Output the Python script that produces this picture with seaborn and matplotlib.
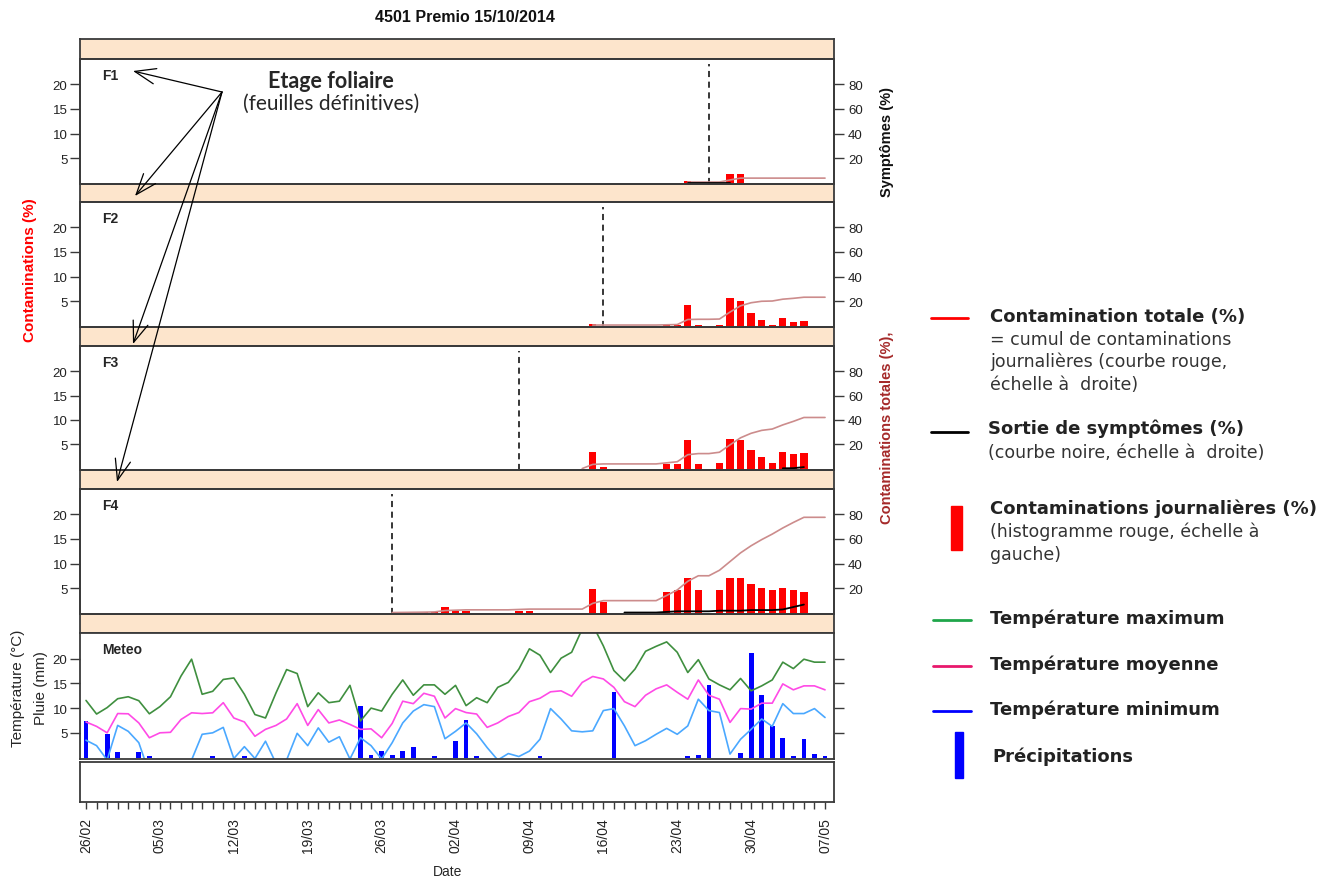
import matplotlib
matplotlib.use("Agg")
import matplotlib.pyplot as plt
import numpy as np
import pandas as pd
import seaborn as sns

W, H = 1341, 879

dates = pd.date_range("2014-02-26", "2014-05-07", freq="D")
day_idx = np.arange(len(dates))

# daily contaminations (%), left scale: day index -> value
f1_days = [57, 61, 62]
f1_daily = [0.4, 1.7, 1.7]
f2_days = [48, 55, 56, 57, 58, 60, 61, 62, 63, 64, 65, 66, 67, 68]
f2_daily = [0.4, 0.2, 0.2, 4.1, 0.2, 0.2, 5.7, 5.1, 2.55, 1.2, 0.2, 1.5, 0.7, 0.9]
f3_days = [48, 49, 55, 56, 57, 58, 60, 61, 62, 63, 64, 65, 66, 67, 68]
f3_daily = [3.4, 0.4, 0.9, 0.9, 5.8, 0.9, 1.1, 6.1, 5.8, 3.75, 2.4, 1.1, 3.4, 2.9, 3.2]
f4_days = [30, 31, 32, 33, 34, 35, 36, 41, 42, 48, 49, 55, 56, 57, 58,
           60, 61, 62, 63, 64, 65, 66, 67, 68]
f4_daily = [0.1, 0.1, 0.1, 0.2, 1.1, 0.3, 0.3, 0.3, 0.3, 4.7, 2.2, 4.2, 4.5, 7.1, 4.5,
            4.5, 7.1, 7.1, 5.8, 5.0, 4.5, 5.0, 4.5, 4.2]

# total contamination (%), right scale, starting at a given day index
f1_total_start = 57
f1_total = [0.4, 0.4, 0.4, 0.4, 2.1, 3.6, 3.6, 3.6, 3.6, 3.6, 3.6, 3.6, 3.6, 3.6]
f2_total_start = 48
f2_total = [0.4, 0.4, 0.4, 0.4, 0.4, 0.4, 0.4, 0.6, 0.8, 4.9, 5.1, 5.1, 5.3, 11.0,
            16.1, 18.6, 19.8, 20.0, 21.5, 22.2, 23.1, 23.1, 23.1]
f3_total_start = 47
f3_total = [0.0, 3.4, 3.8, 3.8, 3.8, 3.8, 3.8, 3.8, 4.7, 5.6, 11.4, 12.3, 12.3, 13.4,
            19.5, 25.3, 29.0, 31.4, 32.5, 35.9, 38.8, 42.0, 42.0, 42.0]
f4_total_start = 29
f4_total = [0.0, 0.1, 0.2, 0.3, 0.5, 1.6, 1.9, 2.2, 2.2, 2.2, 2.2, 2.2, 2.5, 2.8,
            2.8, 2.8, 2.8, 2.8, 2.8, 7.5, 9.7, 9.7, 9.7, 9.7, 9.7, 9.7, 13.9, 18.4,
            25.5, 30.0, 30.0, 34.5, 41.6, 48.7, 54.5, 59.5, 64.0, 69.0, 73.5, 77.7,
            77.7, 77.7]

# symptoms (%), right scale
f1_sympt_start = 57
f1_sympt = [0.0, 0.0, 0.0, 0.0, 0.0]
f3_sympt_start = 66
f3_sympt = [0.2, 0.3, 1.2]
f4_sympt_start = 51
f4_sympt = [0.0, 0.0, 0.0, 0.0, 0.5, 1.0, 1.0, 1.0, 1.0, 1.5, 1.5, 1.5, 2.0, 2.0,
            2.0, 2.5, 4.5, 6.5]

# leaf emergence day (dashed line)
leaf_labels = ["F1", "F2", "F3", "F4"]
leaf_emergence = [59, 49, 41, 29]

# weather
t_max = [11.55, 8.8, 10.1, 11.9, 12.3, 11.5, 8.85, 10.3, 12.3, 16.5, 19.9, 12.8, 13.4,
         15.8, 16.1, 12.8, 8.7, 8.0, 13.1, 17.8, 17.0, 10.3, 13.1, 11.1, 11.4, 14.6,
         7.4, 10.0, 9.4, 12.8, 15.7, 12.6, 14.7, 14.7, 12.8, 14.6, 10.5, 12.1, 11.1,
         14.2, 15.2, 17.9, 22.0, 20.7, 17.2, 20.1, 21.3, 26.0, 26.8, 22.6, 17.6, 15.5,
         17.9, 21.5, 22.5, 23.4, 21.3, 17.2, 19.8, 15.9, 14.7, 13.7, 16.0, 13.5, 14.5,
         15.7, 19.3, 18.0, 19.9, 19.3, 19.3]
t_mean = [7.2, 6.3, 5.0, 8.9, 8.85, 7.0, 4.0, 5.0, 5.1, 7.7, 9.05, 8.9, 9.05, 11.1,
          8.0, 7.2, 4.3, 5.7, 6.5, 7.8, 10.9, 6.5, 9.7, 7.0, 7.6, 6.7, 5.7, 5.8, 4.0,
          6.9, 11.4, 10.9, 13.0, 12.4, 8.0, 9.9, 9.1, 8.8, 6.1, 7.0, 8.3, 9.1, 11.3,
          12.0, 13.3, 13.5, 12.4, 15.2, 16.4, 15.9, 14.2, 11.3, 10.3, 12.6, 13.9, 14.7,
          13.2, 11.8, 15.7, 12.6, 11.8, 7.1, 9.9, 9.8, 11.0, 11.0, 14.9, 13.7, 14.5,
          14.5, 13.7]
t_min = [3.5, 2.4, -0.5, 6.5, 5.3, 3.0, -3.2, -3.0, -2.5, -1.5, -0.5, 4.7, 5.0, 6.1,
         -0.2, 2.2, -0.2, 3.3, -1.2, -0.5, 4.9, 2.4, 6.0, 3.1, 4.2, -0.3, 4.0, 2.4,
         -0.3, 3.0, 7.0, 9.4, 10.7, 10.3, 3.8, 5.3, 7.0, 4.8, 2.0, -0.5, 0.8, 0.2, 1.3,
         3.7, 9.9, 7.8, 5.4, 5.2, 5.4, 9.5, 9.9, 6.4, 2.4, 3.4, 4.7, 5.9, 4.7, 6.4,
         11.8, 9.5, 9.1, 0.7, 3.7, 5.7, 7.8, 6.3, 10.9, 8.9, 8.9, 9.9, 8.1]
rain_days = [0, 2, 3, 5, 6, 12, 15, 26, 27, 28, 29, 30, 31, 33, 35, 36, 37, 43, 50,
             57, 58, 59, 62, 63, 64, 65, 66, 67, 68, 69, 70]
rain_mm = [7.4, 4.8, 1.1, 1.1, 0.3, 0.3, 0.3, 10.5, 0.6, 1.3, 0.6, 1.3, 2.1, 0.3, 3.4,
           7.6, 0.3, 0.3, 13.3, 0.3, 0.6, 14.7, 0.9, 21.1, 12.6, 6.4, 4.05, 0.3, 3.7,
           0.8, 0.3]

SPINE = "#3A3A3A"
STRIP = "#FDE5CC"
X_LIM = (-0.57, 70.85)

sns.set_style("ticks")
plt.rcParams["font.family"] = ["Liberation Sans", "DejaVu Sans"]
plt.rcParams["axes.edgecolor"] = SPINE
plt.rcParams["axes.linewidth"] = 1.3


def px_axes(fig, top, bottom, left=80, right=834):
    return fig.add_axes([left / W, 1 - bottom / H, (right - left) / W, (bottom - top) / H])


def style_box(ax):
    for s in ax.spines.values():
        s.set_visible(True)
        s.set_color(SPINE)
        s.set_linewidth(1.3)


fig = plt.figure(figsize=(W / 100, H / 100), dpi=100)

strips = [(40, 60), (185, 203), (328, 347), (471, 490), (615, 634)]
panels = [(60, 185), (203, 328), (347, 471), (490, 615)]

for top, bottom in strips:
    s = px_axes(fig, top, bottom)
    s.set_facecolor(STRIP)
    s.set_xticks([])
    s.set_yticks([])
    style_box(s)

leaf_data = [
    (f1_days, f1_daily, f1_total_start, f1_total, f1_sympt_start, f1_sympt),
    (f2_days, f2_daily, f2_total_start, f2_total, None, None),
    (f3_days, f3_daily, f3_total_start, f3_total, f3_sympt_start, f3_sympt),
    (f4_days, f4_daily, f4_total_start, f4_total, f4_sympt_start, f4_sympt),
]

for (top, bottom), label, emerg, data in zip(panels, leaf_labels, leaf_emergence, leaf_data):
    bdays, daily, tstart, total, sstart, sympt = data
    ax = px_axes(fig, top, bottom)
    ax.set_facecolor("white")
    sns.barplot(x=bdays, y=daily, native_scale=True, width=0.7, color="#FF0000",
                saturation=1, errorbar=None, linewidth=0, ax=ax)
    ax.axvline(emerg, ymin=0, ymax=0.96, color="black", lw=1.1, ls=(0, (4, 3)))
    ax.set_xlim(*X_LIM)
    ax.set_ylim(-0.3, 25.2)
    ax.set_xticks([])
    ax.set_yticks([5, 10, 15, 20])
    ax.tick_params(axis="y", direction="out", length=7, width=1, color=SPINE,
                   labelsize=9.5, pad=2, labelcolor="#222222")
    ax.set_xlabel("")
    ax.set_ylabel("")
    ax.text(0.03, 0.93, label, transform=ax.transAxes, fontsize=10,
            fontweight="bold", va="top", ha="left")
    style_box(ax)

    ax2 = ax.twinx()
    sns.lineplot(x=list(range(tstart, tstart + len(total))), y=total, ax=ax2,
                 color="#CC8C8C", lw=1.2)
    if sympt is not None:
        sns.lineplot(x=list(range(sstart, sstart + len(sympt))), y=sympt, ax=ax2,
                     color="black", lw=1.3)
    ax2.set_xlim(*X_LIM)
    ax2.set_ylim(-1.2, 100.8)
    ax2.set_yticks([20, 40, 60, 80])
    ax2.tick_params(axis="y", direction="out", length=7, width=1, color=SPINE,
                    labelsize=9.5, pad=3, labelcolor="#222222")
    ax2.set_ylabel("")
    ax2.set_xlabel("")
    style_box(ax2)

# meteo panel
axm = px_axes(fig, 634, 760)
axm.set_facecolor("white")
sns.lineplot(x=day_idx, y=t_max, ax=axm, color="#3F8F3F", lw=1.2)
sns.lineplot(x=day_idx, y=t_mean, ax=axm, color="#FF4AE6", lw=1.2)
sns.lineplot(x=day_idx, y=t_min, ax=axm, color="#4AA8FF", lw=1.2)
sns.barplot(x=rain_days, y=rain_mm, native_scale=True, width=0.45, color="#0000FF",
            saturation=1, errorbar=None, linewidth=0, ax=axm)
axm.set_xlim(*X_LIM)
axm.set_ylim(-0.3, 25.2)
axm.set_xticks([])
axm.set_yticks([5, 10, 15, 20])
axm.tick_params(axis="y", direction="out", length=7, width=1, color=SPINE,
                labelsize=9.5, pad=2, right=True, labelright=False, labelcolor="#222222")
axm.set_xlabel("")
axm.set_ylabel("")
axm.text(0.03, 0.93, "Meteo", transform=axm.transAxes, fontsize=10,
         fontweight="bold", va="top", ha="left")
style_box(axm)

# empty date panel with day ticks
axd = px_axes(fig, 763, 803)
axd.set_facecolor("white")
axd.set_xlim(*X_LIM)
axd.set_yticks([])
axd.set_xticks(day_idx)
axd.set_xticklabels([d.strftime("%d/%m") if i % 7 == 0 else "" for i, d in enumerate(dates)],
                    rotation=90, fontsize=10, color="#222222")
axd.tick_params(axis="x", direction="out", length=5, width=1, color=SPINE, pad=6)
style_box(axd)

# overlay in pixel coordinates for titles, annotations and legend
ov = fig.add_axes([0, 0, 1, 1])
ov.set_xlim(0, W)
ov.set_ylim(H, 0)
ov.axis("off")

ov.text(465, 18, "4501 Premio 15/10/2014", fontsize=11.5, fontweight="bold",
        ha="center", va="center", color="#111111")
ov.text(448, 872, "Date", fontsize=10, ha="center", va="center")
ov.text(30, 270, "Contaminations (%)", rotation=90, color="#FF0000", fontsize=11,
        fontweight="bold", ha="center", va="center")
ov.text(887, 142, "Symptômes (%)", rotation=90, color="#111111", fontsize=10.5,
        fontweight="bold", ha="center", va="center")
ov.text(887, 428, "Contaminations totales (%),", rotation=90, color="#A52A2A",
        fontsize=10.5, fontweight="bold", ha="center", va="center")
ov.text(18, 688, "Température (°C)", rotation=90, fontsize=11, ha="center", va="center")
ov.text(41, 688, "Pluie (mm)", rotation=90, fontsize=11, ha="center", va="center")

# leaf-layer annotation
ov.text(331, 81, "Etage foliaire", fontsize=15.5, fontweight="bold", family="Lato",
        ha="center", va="center")
ov.text(331, 104, "(feuilles définitives)", fontsize=15, family="Lato",
        ha="center", va="center")
for tx, ty in [(133, 72), (135, 197), (133, 345), (117, 483)]:
    ov.annotate("", xy=(tx, ty), xytext=(222, 93),
                arrowprops=dict(arrowstyle="->,head_length=0.75,head_width=0.28",
                                lw=0.9, color="black", shrinkA=0, shrinkB=0,
                                mutation_scale=20))

# legend
LF = ["DejaVu Sans"]
HS, RS = 13, 12.5
ov.plot([931, 968], [319, 319], color="#FF0000", lw=2)
ov.text(990, 317, "Contamination totale (%)", fontsize=HS, fontweight="bold",
        family=LF, va="center", color="#222222")
for y, t in [(340, "= cumul de contaminations"), (362, "journalières (courbe rouge,"),
             (385, "échelle à  droite)")]:
    ov.text(990, y, t, fontsize=RS, family=LF, va="center", color="#333333")

ov.plot([931, 968], [433, 433], color="black", lw=2)
ov.text(988, 429, "Sortie de symptômes (%)", fontsize=HS, fontweight="bold",
        family=LF, va="center", color="#222222")
ov.text(988, 453, "(courbe noire, échelle à  droite)", fontsize=RS, family=LF,
        va="center", color="#333333")

ov.add_patch(plt.Rectangle((951, 507), 11, 44, color="#FF0000"))
ov.text(990, 509, "Contaminations journalières (%)", fontsize=HS, fontweight="bold",
        family=LF, va="center", color="#222222")
ov.text(990, 532, "(histogramme rouge, échelle à", fontsize=RS, family=LF,
        va="center", color="#333333")
ov.text(990, 555, "gauche)", fontsize=RS, family=LF, va="center", color="#333333")

for y, c, t in [(621, "#1FA64A", "Température maximum"),
                (667, "#E8186C", "Température moyenne"),
                (712, "#0000FF", "Température minimum")]:
    ov.plot([933, 971], [y, y], color=c, lw=2)
    ov.text(990, y - 2, t, fontsize=HS, fontweight="bold", family=LF,
            va="center", color="#222222")

ov.add_patch(plt.Rectangle((955, 733), 8, 46, color="#0000FF"))
ov.text(992, 757, "Précipitations", fontsize=HS, fontweight="bold", family=LF,
        va="center", color="#222222")

fig.savefig("out.png", dpi=100)
